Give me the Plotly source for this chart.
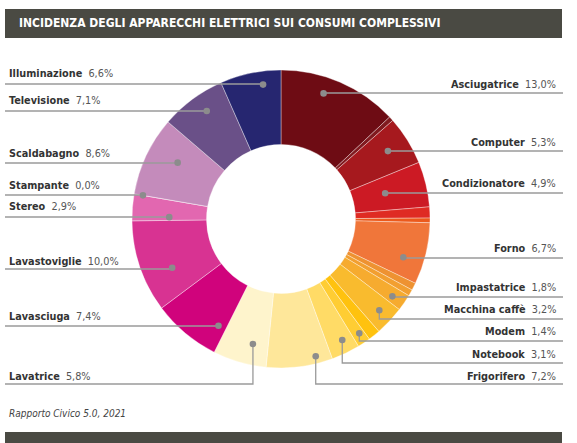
import math
import plotly.graph_objects as go

# ---------------- data ----------------
slice_names = ["Asciugatrice", "Altro 1", "Computer", "Condizionatore", "Altro 2", "Altro 3",
               "Forno", "Altro 4", "Altro 5", "Impastatrice", "Macchina caffè", "Altro 6",
               "Modem", "Notebook", "Frigorifero", "Lavatrice", "Lavasciuga", "Lavastoviglie",
               "Stereo", "Stampante", "Scaldabagno", "Televisione", "Illuminazione"]
slice_values = [13.0, 0.5, 5.3, 4.9, 1.2, 0.5,
                6.7, 0.8, 0.7, 1.8, 3.2, 1.3,
                1.4, 3.1, 7.2, 5.8, 7.4, 10.0,
                2.9, 0.0, 8.6, 7.1, 6.6]
slice_colors = ["#6E0C14", "#801A1F", "#A6191E", "#CC1A24", "#DF2B23", "#EC5A1C",
                "#F0763A", "#EE9231", "#F29F30", "#F6AB2F", "#F9BB2E", "#FFC20E",
                "#FFCD33", "#FFDB66", "#FEE79A", "#FEF4CC", "#D0037C", "#D83392",
                "#E267B0", "#E88CC0", "#C48BBB", "#6A5088", "#262670"]

title_text = "INCIDENZA DEGLI APPARECCHI ELETTRICI SUI CONSUMI COMPLESSIVI"
source_text = "Rapporto Civico 5.0, 2021"

# ---------------- layout helpers ----------------
W, H = 577, 443
CX, CY, R = 281, 219, 149

# label placement: side, text centre y, line y, position within slice, radius fraction
label_layout = {
    "Asciugatrice":   ("r", 84, 93, 0.40, 0.89),
    "Computer":       ("r", 142, 151, 0.47, 0.85),
    "Condizionatore": ("r", 183, 193, 0.48, 0.72),
    "Forno":          ("r", 248, 258, 0.66, 0.86),
    "Impastatrice":   ("r", 287, 297, 0.59, 0.91),
    "Macchina caffè": ("r", 309, 319, 0.47, 0.90),
    "Modem":          ("r", 331, 341, 0.39, 0.93),
    "Notebook":       ("r", 354, 363, 0.40, 0.91),
    "Frigorifero":    ("r", 376, 384, 0.23, 0.95),
    "Lavatrice":      ("l", 376, 384, 0.33, 0.86),
    "Lavasciuga":     ("l", 316, 326, 0.14, 0.83),
    "Lavastoviglie":  ("l", 261, 269, 0.35, 0.80),
    "Stereo":         ("l", 207, 217, 0.16, 0.75),
    "Stampante":      ("l", 185, 195, 0.0, 0.94),
    "Scaldabagno":    ("l", 153, 163, 0.61, 0.79),
    "Televisione":    ("l", 101, 111, 0.58, 0.88),
    "Illuminazione":  ("l", 73, 84, 0.68, 0.91),
}


def px(x):
    return x / W


def py(y):
    return 1 - y / H


FONT = "Liberation Sans Narrow, Arial Narrow, DejaVu Sans Condensed, sans-serif"

fig = go.Figure(go.Pie(
    labels=slice_names, values=slice_values, sort=False, direction="clockwise",
    rotation=0, hole=0.5, textinfo="none", hoverinfo="label+value",
    marker=dict(colors=slice_colors, line=dict(color="rgba(255,255,255,0.45)", width=0.8)),
    domain=dict(x=[px(CX - R), px(CX + R)], y=[py(CY + R), py(CY - R)]),
    showlegend=False,
))

total = sum(slice_values)
starts, cum = [], 0.0
for v in slice_values:
    starts.append(cum)
    cum += v

shapes, annotations = [], []
LINE_COL = "#9A9A9A"
DOT_COL = "#8C8C8C"
for i, name in enumerate(slice_names):
    if name not in label_layout:
        continue
    side, ty, ly, t, rf = label_layout[name]
    a0 = starts[i] / total * 360
    a1 = (starts[i] + slice_values[i]) / total * 360
    ang = math.radians(a0 + t * (a1 - a0))
    dx = CX + rf * R * math.sin(ang)
    dy = CY - rf * R * math.cos(ang)
    xend = 563 if side == "r" else 5
    shapes.append(dict(type="path", xref="paper", yref="paper",
                       path=f"M {px(dx)} {py(dy)} L {px(dx)} {py(ly)} L {px(xend)} {py(ly)}",
                       line=dict(color=LINE_COL, width=1.3)))
    shapes.append(dict(type="circle", xref="paper", yref="paper",
                       x0=px(dx - 3.3), x1=px(dx + 3.3), y0=py(dy + 3.3), y1=py(dy - 3.3),
                       fillcolor=DOT_COL, line=dict(width=0)))
    val = f"{slice_values[i]:.1f}".replace(".", ",") + "%"
    txt = f"<b>{name}</b>\u00a0\u00a0<span style='color:#555555'>{val}</span>"
    annotations.append(dict(
        x=px(558) if side == "r" else px(7), y=py(ty), xref="paper", yref="paper",
        xanchor="right" if side == "r" else "left", yanchor="middle",
        text=txt, showarrow=False, font=dict(family=FONT, size=10.8, color="#333333")))

# title bar and bottom bar
shapes.append(dict(type="rect", xref="paper", yref="paper", x0=px(5), x1=px(562),
                   y0=py(38), y1=py(9), fillcolor="#4A4A43", line=dict(width=0), layer="below"))
shapes.append(dict(type="rect", xref="paper", yref="paper", x0=px(5), x1=px(562),
                   y0=py(446), y1=py(432), fillcolor="#4A4A43", line=dict(width=0), layer="below"))
annotations.append(dict(x=px(17), y=py(23.5), xref="paper", yref="paper", xanchor="left",
                        yanchor="middle", text=f"<b>{title_text}</b>", showarrow=False,
                        font=dict(family=FONT, size=12, color="white")))
annotations.append(dict(x=px(7), y=py(413), xref="paper", yref="paper", xanchor="left",
                        yanchor="middle", text=f"<i>{source_text}</i>", showarrow=False,
                        font=dict(family=FONT, size=10, color="#444444")))

fig.update_layout(width=W, height=H, margin=dict(l=0, r=0, t=0, b=0),
                  paper_bgcolor="white", plot_bgcolor="white",
                  shapes=shapes, annotations=annotations)
fig.write_html("out.html")
